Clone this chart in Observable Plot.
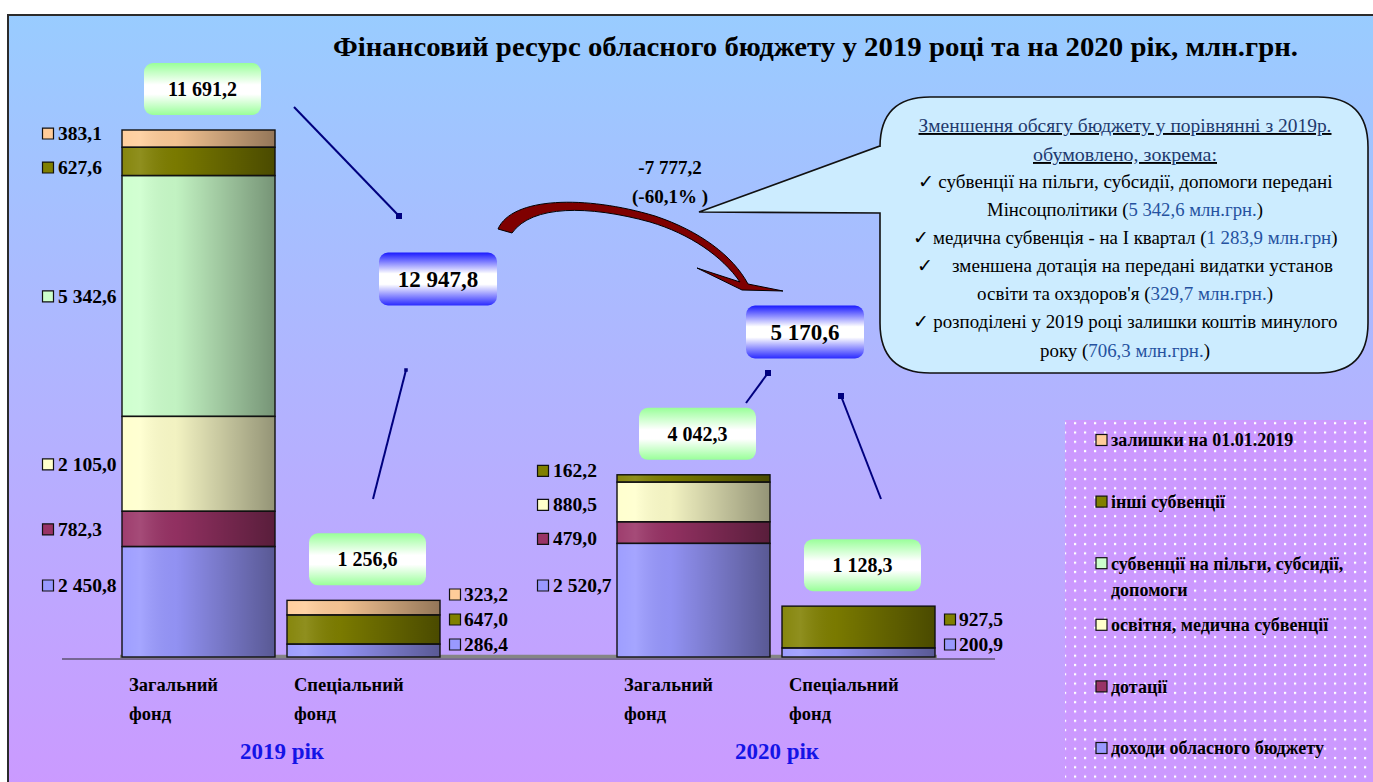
<!DOCTYPE html>
<html><head><meta charset="utf-8">
<script src="https://cdn.jsdelivr.net/npm/d3@7"></script>
<script src="https://cdn.jsdelivr.net/npm/@observablehq/plot@0.6"></script>
<style>
html,body{margin:0;padding:0;background:#fff;width:1373px;height:782px;overflow:hidden;}
#frame{position:absolute;left:7px;top:14px;width:1380px;height:790px;border:2px solid #2b2b2b;box-sizing:border-box;background:linear-gradient(to bottom,#99ccff 0%,#cc99ff 100%);}
#chart{position:absolute;left:0;top:0;width:1373px;height:782px;}
</style></head><body>
<div id="frame"></div>
<div id="chart"></div>
<script>
// ---------------- DATA ----------------
const years = ["2019", "2020"];
const funds = ["Загальний фонд", "Спеціальний фонд"];
const fundLabels = ["Загальний\nфонд", "Спеціальний\nфонд"];
const seriesNames = ["доходи обласного бюджету", "дотації", "освітня, медична субвенції", "субвенції на пільги, субсидії, допомоги", "інші субвенції", "залишки на 01.01.2019"];
const seriesColors = ["#9999ff", "#993366", "#ffffcc", "#ccffcc", "#808000", "#ffcc99"];
const values2019General = [2450.8, 782.3, 2105.0, 5342.6, 627.6, 383.1];
const values2019Special = [286.4, 0, 0, 0, 647.0, 323.2];
const values2020General = [2520.7, 479.0, 880.5, 0, 162.2, 0];
const values2020Special = [200.9, 0, 0, 0, 927.5, 0];
const fundTotals = [11691.2, 1256.6, 4042.3, 1128.3];   // totals as printed above the bars
const yearTotals = [12947.8, 5170.6];                   // totals per year as printed
const reasonAmounts = [5342.6, 1283.9, 329.7, 706.3];   // amounts quoted in the callout
const titleText = "Фінансовий ресурс обласного бюджету у 2019 році та на 2020 рік, млн.грн.";

// ---------------- HELPERS ----------------
const loc = d3.formatLocale({decimal: ",", thousands: "\u00a0", grouping: [3], minus: "-"});
const fmt = loc.format(",.1f");
const serif = "'Liberation Serif', 'Times New Roman', serif";

const barValues = [values2019General, values2019Special, values2020General, values2020Special];
const barKeys = years.flatMap(y => funds.map(f => `${y} ${f}`));
const xDomain = [barKeys[0], barKeys[1], "gap", barKeys[2], barKeys[3]];
const rows = barKeys.flatMap((k, b) => seriesNames.map((s, i) => ({key: k, series: s, value: barValues[b][i]})).filter(d => d.value > 0));

const W = 1373, H = 782, MT = 130, MB = 125, ML = 120, MR = 436;
const yMax = d3.max(barValues, v => d3.sum(v));
const k = (H - MT - MB) / yMax; // px per unit

function placeLabels(mids, gapPx, minPx) {
  const gap = gapPx / k, min = minPx / k;
  const p = mids.slice();
  for (let it = 0; it < 300; it++) {
    for (let i = 1; i < p.length; i++) {
      const d = p[i] - p[i - 1];
      if (d < gap) { const s = (gap - d) / 2; p[i] += s; p[i - 1] -= s; }
    }
    if (p[0] < min) p[0] = min;
  }
  return p;
}

const labelRows = [];
barKeys.forEach((key, b) => {
  let c = 0;
  const items = [];
  barValues[b].forEach((v, i) => { if (v > 0) { items.push({key, series: seriesNames[i], value: v, mid: c + v / 2}); } c += v; });
  const side = b % 2 === 0 ? "left" : "right";
  const pos = side === "left" ? placeLabels(items.map(d => d.mid), 34, 72) : placeLabels(items.map(d => d.mid), 25, 13);
  items.forEach((d, i) => labelRows.push({...d, labelY: pos[i], side}));
});
const leftLabels = labelRows.filter(d => d.side === "left");
const rightLabels = labelRows.filter(d => d.side === "right");

const txt = {fontFamily: serif, fontWeight: "bold", fill: "#000"};

// ---------------- PLOT ----------------
const plot = Plot.plot({
  width: W, height: H,
  marginTop: MT, marginBottom: MB, marginLeft: ML, marginRight: MR,
  style: {background: "transparent", overflow: "visible", fontFamily: serif},
  x: {domain: xDomain, paddingInner: 0.072, paddingOuter: 0, axis: null},
  y: {domain: [0, yMax], axis: null},
  color: {domain: seriesNames, range: seriesColors, legend: false},
  marks: [
    Plot.ruleY([0], {stroke: "#2a2a2a", strokeWidth: 1.2, insetLeft: -58, insetRight: -58, dy: 1.5}),
    Plot.ruleY([0], {stroke: "#858585", strokeWidth: 3.5, dy: -1}),
    Plot.barY(rows, Plot.stackY({x: "key", y: "value", fill: "series"})),
    Plot.barY(rows, Plot.stackY({x: "key", y: "value", fill: "url(#bar-shade)", stroke: "#111", strokeWidth: 1.4})),
    Plot.dot(leftLabels, {x: "key", y: "labelY", dx: -151, symbol: "square", r: 6.2, fill: "series", stroke: "#111", strokeWidth: 1.2}),
    Plot.text(leftLabels, {x: "key", y: "labelY", dx: -141, text: d => fmt(d.value), textAnchor: "start", fontSize: 19.5, ...txt}),
    Plot.dot(rightLabels, {x: "key", y: "labelY", dx: 91, symbol: "square", r: 6.2, fill: "series", stroke: "#111", strokeWidth: 1.2}),
    Plot.text(rightLabels, {x: "key", y: "labelY", dx: 100, text: d => fmt(d.value), textAnchor: "start", fontSize: 19.5, ...txt}),
    Plot.text(barKeys, {x: d => d, text: (d, i) => fundLabels[i % 2], frameAnchor: "bottom", dy: 13, dx: -70, lineAnchor: "top", textAnchor: "start", lineHeight: 1.57, fontSize: 18.5, ...txt}),
    Plot.text(years, {x: y => `${y} ${funds[0]}`, dx: 83, text: y => `${y} рік`, frameAnchor: "bottom", dy: 101, fontSize: 23, fontFamily: serif, fontWeight: "bold", fill: "#1414e6"})
  ]
});
document.getElementById("chart").append(plot);

// ---------------- ANNOTATIONS ----------------
const svg = d3.select(plot);
const X = plot.scale("x"), Y = plot.scale("y");
const bw = X.bandwidth;
const xc = key => X.apply(key) + bw / 2;

const defs = svg.insert("defs", ":first-child");
function grad(id, stops, vertical) {
  const g = defs.append("linearGradient").attr("id", id).attr("x1", 0).attr("y1", 0).attr("x2", vertical ? 0 : 1).attr("y2", vertical ? 1 : 0);
  stops.forEach(([o, c, a]) => g.append("stop").attr("offset", o).attr("stop-color", c).attr("stop-opacity", a));
}
grad("bar-shade", [[0, "#fff", 0.05], [0.12, "#fff", 0.12], [0.35, "#000", 0.05], [1, "#000", 0.42]], false);
grad("box-green", [[0, "#99ff99", 1], [0.42, "#ffffff", 1], [0.6, "#ffffff", 1], [1, "#99ff99", 1]], true);
grad("box-blue", [[0, "#1a1aff", 1], [0.4, "#ffffff", 1], [0.6, "#ffffff", 1], [1, "#2a2aff", 1]], true);
const pat = defs.append("pattern").attr("id", "dots").attr("patternUnits", "userSpaceOnUse").attr("width", 10).attr("height", 9.3);
pat.append("rect").attr("width", 10).attr("height", 9.3).attr("fill", "#cc99ff");
pat.append("rect").attr("x", 4).attr("y", 3.6).attr("width", 2.2).attr("height", 2.2).attr("fill", "#fff");

const g = svg.append("g").attr("font-family", serif).attr("text-anchor", "start");

// title
g.append("text").attr("x", 333).attr("y", 56).attr("text-anchor", "start").attr("textLength", 965).attr("lengthAdjust", "spacingAndGlyphs")
  .attr("font-size", 27).attr("font-weight", "bold").attr("fill", "#000").text(titleText);

// fund total boxes (green)
barKeys.forEach((key, b) => {
  const cx = xc(key) + 4;
  const bottom = Y.apply(d3.sum(barValues[b])) - 15;
  g.append("rect").attr("x", cx - 58.5).attr("y", bottom - 52).attr("width", 117).attr("height", 52).attr("rx", 9).attr("fill", "url(#box-green)");
  g.append("text").attr("x", cx).attr("y", bottom - 26).attr("dy", "0.35em").attr("text-anchor", "middle")
    .attr("font-size", 20).attr("font-weight", "bold").text(fmt(fundTotals[b]));
});

// connector lines
const connectors = [[294, 107, 399, 216, 6], [373, 499, 406, 370, 3.5], [746, 403, 768, 373, 6], [881, 499, 841, 396, 6]];
connectors.forEach(([x1, y1, x2, y2, s]) => {
  g.append("line").attr("x1", x1).attr("y1", y1).attr("x2", x2).attr("y2", y2).attr("stroke", "#00007f").attr("stroke-width", 2);
  g.append("rect").attr("x", x2 - s / 2).attr("y", y2 - s / 2).attr("width", s).attr("height", s).attr("fill", "#00007f");
});

// year total boxes (blue)
const yearBoxes = [[438, 279], [805, 332]];
yearTotals.forEach((v, j) => {
  const [cx, cy] = yearBoxes[j];
  g.append("rect").attr("x", cx - 59).attr("y", cy - 26.5).attr("width", 118).attr("height", 53).attr("rx", 9).attr("fill", "url(#box-blue)");
  g.append("text").attr("x", cx).attr("y", cy).attr("dy", "0.36em").attr("text-anchor", "middle")
    .attr("font-size", 23).attr("font-weight", "bold").text(fmt(v));
});

// red curved arrow
g.append("path")
  .attr("d", "M498,229 C512,197 585,195 655,216 C700,231 733,256 748,284 L783,291 L742,290 L697,268 L740,282 C722,256 690,234 650,222 C588,205 532,205 512,233 Z")
  .attr("fill", "#7f0000").attr("stroke", "#000").attr("stroke-width", 1);

// change text
const change = yearTotals[1] - yearTotals[0];
const pct = change / yearTotals[0] * 100;
g.append("text").attr("x", 670).attr("y", 174).attr("text-anchor", "middle").attr("font-size", 19).attr("font-weight", "bold").text(fmt(change));
g.append("text").attr("x", 670).attr("y", 203).attr("text-anchor", "middle").attr("font-size", 19).attr("font-weight", "bold").text(`(${loc.format(".1f")(pct)}% )`);

// callout bubble
g.append("path")
  .attr("d", "M930,97 H1318 Q1368,97 1368,147 V323 Q1368,373 1318,373 H930 Q880,373 880,323 V213 L699,212 L880,146 V147 Q880,97 930,97 Z")
  .attr("fill", "#ccecff").attr("stroke", "#111").attr("stroke-width", 1.6);

const navy = "#1f3a6e", blue = "#2552a0";
const bubbleLines = [
  {y: 132, w: 413, u: true, segs: [["Зменшення обсягу бюджету у порівнянні з 2019р.", navy]]},
  {y: 161, w: 184, u: true, segs: [["обумовлено, зокрема:", navy]]},
  {y: 188, w: 415, segs: [["✓ субвенції на пільги, субсидії, допомоги передані", "#000"]]},
  {y: 216, w: 276, segs: [["Мінсоцполітики (", "#000"], [fmt(reasonAmounts[0]) + " млн.грн.", blue], [")", "#000"]]},
  {y: 244, w: 425, segs: [["✓ медична субвенція - на І квартал (", "#000"], [fmt(reasonAmounts[1]) + " млн.грн", blue], [")", "#000"]]},
  {y: 272, w: 416, segs: [["✓    зменшена дотація на передані видатки установ", "#000"]]},
  {y: 300, w: 296, segs: [["освіти та охздоров'я (", "#000"], [fmt(reasonAmounts[2]) + " млн.грн.", blue], [")", "#000"]]},
  {y: 328, w: 425, segs: [["✓ розподілені у 2019 році залишки коштів минулого", "#000"]]},
  {y: 357, w: 170, segs: [["року (", "#000"], [fmt(reasonAmounts[3]) + " млн.грн.", blue], [")", "#000"]]}
];
bubbleLines.forEach(l => {
  const t = g.append("text").attr("x", 1125).attr("y", l.y).attr("text-anchor", "middle")
    .attr("font-size", 19).attr("textLength", l.w).attr("lengthAdjust", "spacingAndGlyphs")
    .style("white-space", "pre");
  if (l.u) t.attr("text-decoration", "underline");
  l.segs.forEach(([s, c]) => t.append("tspan").attr("fill", c).text(s));
});

// legend
g.append("rect").attr("x", 1065).attr("y", 420).attr("width", 320).attr("height", 380).attr("fill", "url(#dots)");
const C = plot.scale("color");
seriesNames.slice().reverse().forEach((name, i) => {
  const cy = 440 + 61.6 * i;
  g.append("rect").attr("x", 1096).attr("y", cy - 5.5).attr("width", 11).attr("height", 11)
    .attr("fill", C.apply(name)).attr("stroke", "#111").attr("stroke-width", 1.2);
  let lines = [name];
  if (name.length > 30) { const p = name.lastIndexOf(", "); lines = [name.slice(0, p + 1), name.slice(p + 2)]; }
  lines.forEach((ln, j) => g.append("text").attr("x", 1111).attr("y", cy + 26 * j).attr("dy", "0.35em").attr("text-anchor", "start")
    .attr("font-size", 18).attr("font-weight", "bold").attr("fill", "#000").text(ln));
});
</script>
</body></html>
